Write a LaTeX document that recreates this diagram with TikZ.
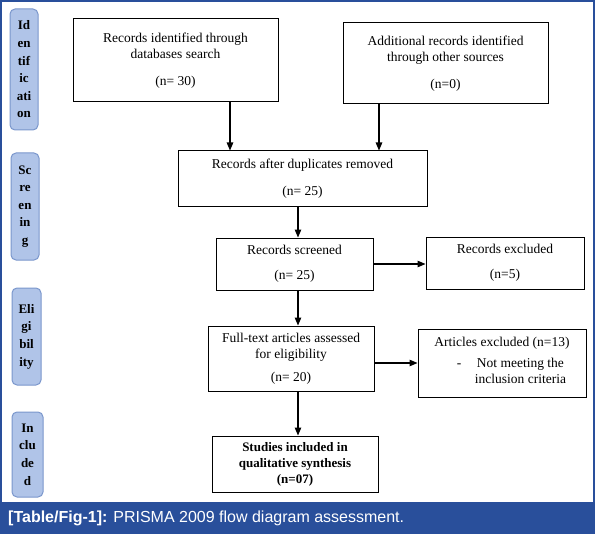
\documentclass[tikz,border=0pt]{standalone}
\usepackage{fontspec}
\setmainfont{Liberation Serif}
\newfontfamily\capfont{Liberation Sans}
\usetikzlibrary{arrows.meta,positioning,calc}
\definecolor{stagefill}{HTML}{B0C4E8}
\definecolor{stageline}{HTML}{7A96CC}
\definecolor{capblue}{HTML}{294F9B}

\begin{document}
\begin{tikzpicture}[x=1pt,y=-1pt,
 flowbox/.style={draw,line width=1pt,align=center,inner sep=0pt,font=\fontsize{13.5}{16}\selectfont},
 stagetag/.style={rounded corners=5pt,draw=stageline,fill=stagefill,line width=1pt,align=center,inner sep=0pt,font=\fontsize{13}{17.6}\selectfont\bfseries},
 arr/.style={line width=1.1pt,-{Triangle[length=8pt,width=6.5pt]}}]
\useasboundingbox (0,0) rectangle (598,535);
\draw[capblue,line width=1.4pt] (1,1) rectangle (594,533);
\fill[capblue] (1,502) rectangle (594,533);
\node[anchor=west,text=white,inner sep=0pt,font=\capfont\fontsize{16}{18}\selectfont] (capt) at (8,518) {\textbf{[Table/Fig-1]:} PRISMA 2009 flow diagram assessment.};

% stage tags on the left
\node[stagetag,minimum width=28pt,minimum height=121pt] (tagid) at (24,69.5) {Id\\en\\tif\\ic\\ati\\on};
\node[stagetag,minimum width=28pt,minimum height=107pt] (tagsc) at (25,206.5) {Sc\\re\\en\\in\\g};
\node[stagetag,minimum width=29pt,minimum height=97pt] (tagel) at (26.5,336.5) {Eli\\gi\\bil\\ity};
\node[stagetag,minimum width=31pt,minimum height=85pt] (tagin) at (27.5,454.5) {In\\clu\\de\\d};

% flow boxes
\node[flowbox,minimum width=205pt,minimum height=83pt] (recid) at (175.5,60.5) {Records identified through\\databases search\\[11pt](n= 30)};
\node[flowbox,minimum width=205pt,minimum height=81pt] (addrec) at (445.5,63.5) {Additional records identified\\through other sources\\[11pt](n=0)};
\node[flowbox,minimum width=249pt,minimum height=55pt] (dupl) at (302.5,178.5) {Records after duplicates removed\\[11pt](n= 25)};
\node[flowbox,minimum width=157pt,minimum height=52pt] (scrn) at (294.5,264) {Records screened\\[9pt](n= 25)};
\node[flowbox,minimum width=158pt,minimum height=52pt] (excl) at (505,263) {Records excluded\\[9pt](n=5)};
\node[flowbox,minimum width=166pt,minimum height=65pt] (full) at (291,358.5) {Full-text articles assessed\\for eligibility\\[7pt](n= 20)};
\node[flowbox,minimum width=168pt,minimum height=68pt] (artex) at (502,363) {Articles excluded (n=13)\\[6pt]\hspace*{1.4em}\begin{tabular}{@{}l@{\hspace{1em}}c@{}}-&Not meeting the\\&inclusion criteria\end{tabular}};
\node[flowbox,minimum width=166pt,minimum height=56pt,font=\fontsize{13}{16}\selectfont\bfseries] (incl) at (295,464) {Studies included in\\qualitative synthesis\\(n=07)};

% connectors
\draw[arr] ([xshift=54.5pt]recid.south) -- ([xshift=54.5pt]recid.south |- dupl.north);
\draw[arr] ([xshift=-66.5pt]addrec.south) -- ([xshift=-66.5pt]addrec.south |- dupl.north);
\draw[arr] ([xshift=3.5pt]scrn.north |- dupl.south) -- ([xshift=3.5pt]scrn.north);
\draw[arr] (scrn.east) -- (scrn.east -| excl.west);
\draw[arr] ([xshift=3.5pt]scrn.south) -- ([xshift=3.5pt]scrn.south |- full.north);
\draw[arr] (full.east |- artex.west) -- (artex.west);
\draw[arr] ([xshift=3pt]incl.north |- full.south) -- ([xshift=3pt]incl.north);
\end{tikzpicture}
\end{document}
